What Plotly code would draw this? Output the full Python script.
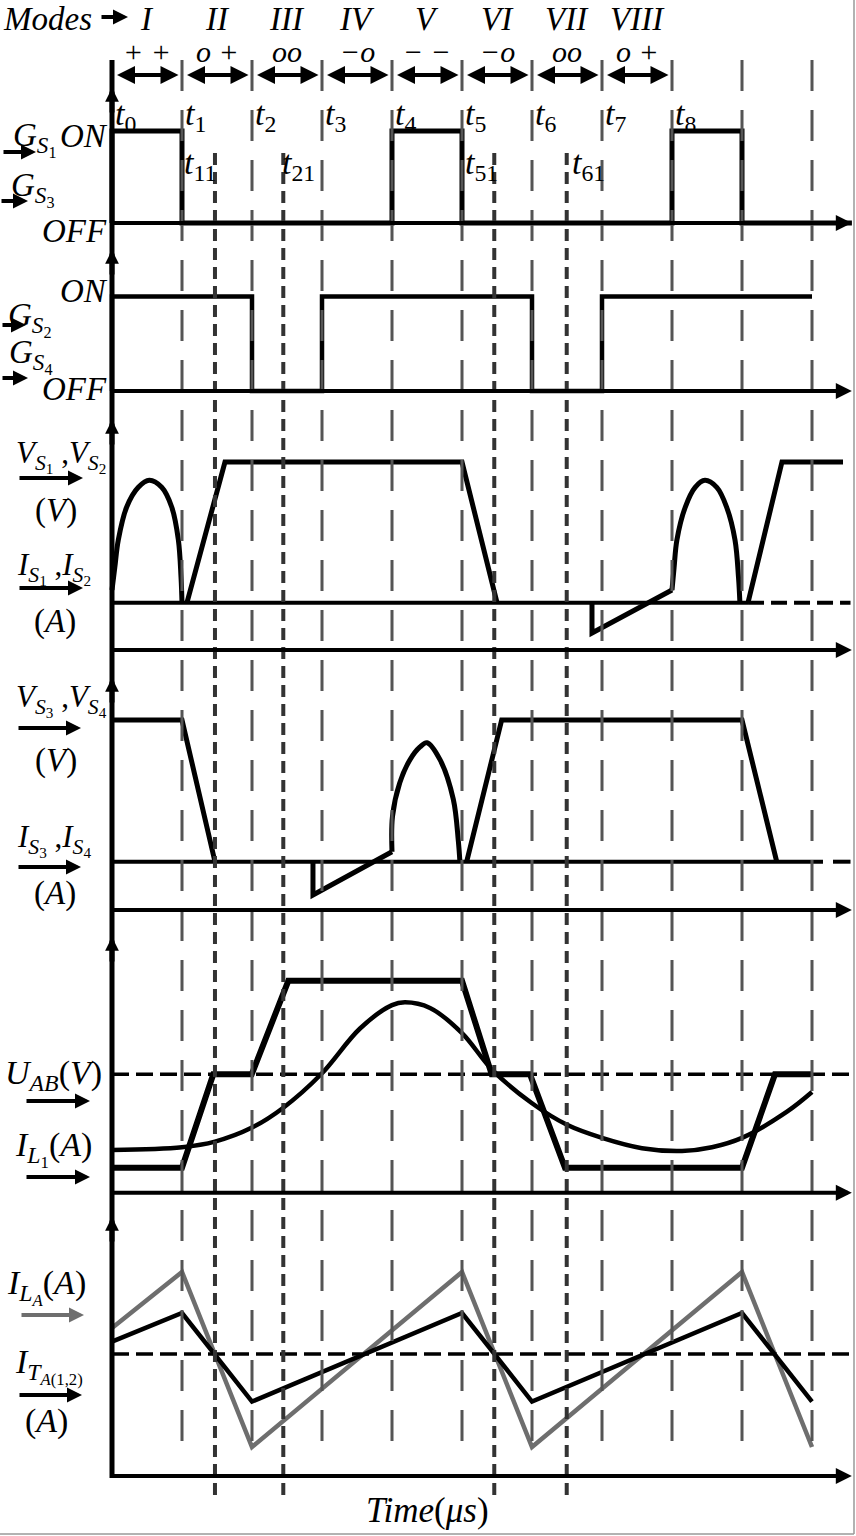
import plotly.graph_objects as go

W, H = 856, 1536

# ------------------------------------------------------------------ data
instants = list(range(1, 11))                    # t1 ... t10 guide lines
sub_instants = [1.471, 2.447, 5.461, 6.496]      # t11, t21, t51, t61
sub_names = ["11", "21", "51", "61"]
t_names = ["0", "1", "2", "3", "4", "5", "6", "7", "8"]
mode_names = ["I", "II", "III", "IV", "V", "VI", "VII", "VIII"]
mode_signs = ["+ +", "o +", "oo", "−o", "− −", "−o", "oo", "o +"]

# gate S1 / S3 (ON = 1, OFF = 0)
gs13_t = [0, 0, 1, 4, 5, 8, 9, 10.57]
gs13_v = [0, 1, 0, 1, 0, 1, 0, 0]
# gate S2 / S4
gs24_t = [0, 0, 2, 3, 6, 7, 10]
gs24_v = [0, 1, 0, 1, 0, 1, 1]

# V_S1,V_S2 / I_S1,I_S2
p3_arch1_t = [0.0, 0.04, 0.09, 0.21, 0.376, 0.533, 0.71, 0.853, 0.948, 0.986, 1.0]
p3_arch1_v = [0.09, 0.25, 0.446, 0.68, 0.82, 0.87, 0.82, 0.68, 0.446, 0.18, 0.0]
p3_arch2_t = [8.0, 8.03, 8.07, 8.19, 8.33, 8.47, 8.64, 8.78, 8.9, 8.95, 8.97]
p3_arch2_v = [0.09, 0.25, 0.446, 0.68, 0.82, 0.87, 0.82, 0.68, 0.446, 0.18, 0.0]
p3_lin_t = [1.071, 1.614, 5.0, 5.5, None, 6.857, 6.857, 8.0, None, 9.086, 9.571, 10.443]
p3_lin_v = [0, 1, 1, 0, None, 0, -0.215, 0.09, None, 0, 1, 1]
p3_base_t = [0, 9.086]
p3_dash_t = [9.086, 10.55]

# V_S3,V_S4 / I_S3,I_S4
p4_arch_t = [4.0, 4.007, 4.11, 4.257, 4.4, 4.5, 4.686, 4.876, 4.947, 4.97]
p4_arch_v = [0.07, 0.32, 0.555, 0.72, 0.81, 0.84, 0.72, 0.44, 0.15, 0.0]
p4_lin_t = [0, 1.0, 1.471, None, 2.871, 2.871, 4.0, None, 5.067, 5.567, 9.0, 9.496]
p4_lin_v = [1, 1, 0, None, 0, -0.235, 0.07, None, 0, 1, 1, 0]
p4_base_t = [0, 10.157]
p4_dash_t = [10.3, 10.55]

# U_AB and I_L1
uab_t = [0, 1, 1.447, 1.996, 2.519, 5.0, 5.424, 5.971, 6.471, 9.0, 9.471, 10.0]
uab_v = [-1, -1, 0, 0, 1, 1, 0, 0, -1, -1, 0, 0]
il1_t = [0, 1, 1.471, 2, 2.443, 2.986, 3.543, 4, 4.186, 4.543, 5, 5.429, 6, 6.5,
         7, 7.571, 8.143, 8.571, 9, 9.643, 10]
il1_v = [-0.81, -0.78, -0.72, -0.57, -0.36, 0.0, 0.49, 0.74, 0.77, 0.71, 0.44, 0.05,
         -0.31, -0.54, -0.68, -0.79, -0.82, -0.78, -0.68, -0.40, -0.19]
ref_t = [0, 10.57]

# I_LA (grey) and I_TA(1,2) (black)
ila_t = [0, 1, 2, 5, 6, 9, 10]
ila_v = [0.317, 1.0, -1.134, 1.0, -1.134, 1.0, -1.134]
ita_t = [0, 1, 2, 5, 6, 9, 10]
ita_v = [0.15, 0.5, -0.58, 0.5, -0.58, 0.5, -0.58]

# ------------------------------------------------------------------ layout geometry (pixels)
X0, XS = 112.0, 70.0          # pixel of t=0, pixels per interval
x_range = [-X0 / XS, (W - X0) / XS]

# zero pixel, pixels per unit, arrow-tip pixel, x-axis pixel
panels = [
    dict(zero=223.0, scale=92.0, tip=88, axis=223.0),
    dict(zero=391.0, scale=94.5, tip=250, axis=391.0),
    dict(zero=602.7, scale=140.7, tip=420, axis=650.0),
    dict(zero=861.7, scale=141.7, tip=678, axis=910.0),
    dict(zero=1074.3, scale=93.5, tip=937, axis=1192.7),
    dict(zero=1354.0, scale=82.0, tip=1217, axis=1476.0),
]

FONT = "Liberation Serif"
BLACK = "#000000"
GREY = "#6e6e6e"
GUIDE = "#555555"

def py(p):
    return 1 - p / H

def px(p):
    return p / W

fig = go.Figure()
layout_axes = {}
for i, p in enumerate(panels):
    top = p["tip"] - 6
    bot = p["axis"] + 8
    name = "yaxis" if i == 0 else f"yaxis{i+1}"
    layout_axes[name] = dict(
        domain=[py(bot), py(top)],
        range=[(p["zero"] - bot) / p["scale"], (p["zero"] - top) / p["scale"]],
        visible=False, anchor="x", fixedrange=True,
    )
    p["yref"] = "y" if i == 0 else f"y{i+1}"
    p["axis_val"] = (p["zero"] - p["axis"]) / p["scale"]

def add_line(t, v, k, color=BLACK, width=5, shape="linear", dash="solid"):
    fig.add_trace(go.Scatter(
        x=t, y=v, mode="lines", yaxis=panels[k]["yref"], xaxis="x",
        line=dict(color=color, width=width, shape=shape, dash=dash),
        connectgaps=False, hoverinfo="skip", showlegend=False,
    ))

# panel 1, 2: gates
add_line(gs13_t, gs13_v, 0, width=5, shape="hv")
add_line(gs24_t, gs24_v, 1, width=4.5, shape="hv")
# panel 3
add_line(p3_base_t, [0, 0], 2, width=4)
add_line(p3_dash_t, [0, 0], 2, width=4, dash="16px,7px")
add_line(p3_arch1_t, p3_arch1_v, 2, width=5, shape="spline")
add_line(p3_arch2_t, p3_arch2_v, 2, width=5, shape="spline")
add_line(p3_lin_t, p3_lin_v, 2, width=5)
# panel 4
add_line(p4_base_t, [0, 0], 3, width=4)
add_line(p4_dash_t, [0, 0], 3, width=4)
add_line(p4_arch_t, p4_arch_v, 3, width=5, shape="spline")
add_line(p4_lin_t, p4_lin_v, 3, width=5)
# panel 5
add_line(ref_t, [0, 0], 4, width=3.5, dash="17px,7px")
add_line(uab_t, uab_v, 4, width=6)
add_line(il1_t, il1_v, 4, width=4.5, shape="spline")
# panel 6
add_line(ref_t, [0, 0], 5, width=3.5, dash="17px,7px")
add_line(ila_t, ila_v, 5, color=GREY, width=4.5)
add_line(ita_t, ita_v, 5, color=BLACK, width=4.5)

shapes = []
# main vertical axis line
shapes.append(dict(type="line", xref="x", yref="paper", x0=0, x1=0,
                   y0=py(60), y1=py(1478), line=dict(color=BLACK, width=5)))
# dashed time guides
for k in instants:
    shapes.append(dict(type="line", xref="x", yref="paper", x0=k, x1=k,
                       y0=py(60), y1=py(1456),
                       line=dict(color=GUIDE, width=3, dash="31px,19px")))
# dotted sub-instant guides
for s in sub_instants:
    shapes.append(dict(type="line", xref="x", yref="paper", x0=s, x1=s,
                       y0=py(153), y1=py(1495),
                       line=dict(color="#333333", width=4, dash="12px,7px")))
# thin frame at right / bottom
shapes.append(dict(type="line", xref="paper", yref="paper", x0=px(854), x1=px(854),
                   y0=py(0), y1=py(1534), line=dict(color="#999999", width=1.5)))
shapes.append(dict(type="line", xref="paper", yref="paper", x0=0, x1=px(854),
                   y0=py(1534), y1=py(1534), line=dict(color="#999999", width=1.5)))

ann = []
# axis arrows
for p in panels:
    ann.append(dict(x=0, y=py(p["tip"]), xref="x", yref="paper", ax=0, ay=26,
                    text="", showarrow=True, arrowhead=2, arrowwidth=5,
                    arrowsize=0.55, arrowcolor=BLACK))
    ann.append(dict(x=x_range[1] - 0.06, y=p["axis_val"], xref="x", yref=p["yref"],
                    ax=0, ay=p["axis_val"], axref="x", ayref=p["yref"],
                    text="", showarrow=True, arrowhead=2, arrowwidth=4,
                    arrowsize=0.8, arrowcolor=BLACK))

# mode double arrows
for k in range(8):
    ann.append(dict(x=k + 1 - 0.05, y=py(75), xref="x", yref="paper",
                    ax=k + 0.05, ay=0, axref="x", ayref="pixel",
                    text="", showarrow=True, arrowhead=2, arrowside="end+start",
                    arrowwidth=4, arrowsize=0.9, arrowcolor=BLACK))

def text(s, x, y, size=30, xanchor="left", xref="paper", color=BLACK):
    ann.append(dict(text=s, x=(px(x) if xref == "paper" else x), y=py(y),
                    xref=xref, yref="paper", xanchor=xanchor, yanchor="middle",
                    showarrow=False, font=dict(family=FONT, size=size, color=color)))

def arrow(x0, x1, y, color=BLACK):
    ann.append(dict(x=px(x1), y=py(y), xref="paper", yref="paper",
                    ax=-(x1 - x0), ay=0, text="", showarrow=True, arrowhead=2,
                    arrowwidth=4, arrowsize=0.75, arrowcolor=color))

# header
text("<i>Modes</i>", 1, 19, size=33)
arrow(100, 128, 17)
for k, (m, s) in enumerate(zip(mode_names, mode_signs)):
    text(f"<i>{m}</i>", k + 0.5, 19, size=33, xanchor="center", xref="x")
    text(f"<i>{s}</i>", k + 0.5, 52, size=30, xanchor="center", xref="x")

# instant labels
for k, n in enumerate(t_names):
    text(f"<i>t</i><sub>{n}</sub>", X0 + XS * k + 1, 116, size=34)
for s, n, xp in zip(sub_instants, sub_names, [182, 280, 463, 570]):
    text(f"<i>t</i><sub>{n}</sub>", xp, 165, size=34)

# panel 1 labels
text("<i>G</i><sub><i>S</i><sub>1</sub></sub>", 11, 139, size=33)
text("<i>ON</i>", 58, 136, size=33)
arrow(2, 36, 152)
text("<i>G</i><sub><i>S</i><sub>3</sub></sub>", 9, 189, size=33)
arrow(0, 28, 201)
text("<i>OFF</i>", 40, 231, size=33)
# panel 2 labels
text("<i>ON</i>", 58, 291, size=33)
text("<i>G</i><sub><i>S</i><sub>2</sub></sub>", 6, 319, size=33)
arrow(1, 26, 325)
text("<i>G</i><sub><i>S</i><sub>4</sub></sub>", 7, 356, size=33)
arrow(1, 28, 378)
text("<i>OFF</i>", 40, 389, size=33)
# panel 3 labels
text("<i>V</i><sub><i>S</i><sub>1</sub></sub> ,<i>V</i><sub><i>S</i><sub>2</sub></sub>", 14, 456, size=31)
arrow(18, 83, 478)
text("(<i>V</i>)", 33, 510, size=33)
text("<i>I</i><sub><i>S</i><sub>1</sub></sub> ,<i>I</i><sub><i>S</i><sub>2</sub></sub>", 15, 568, size=31)
arrow(18, 83, 588)
text("(<i>A</i>)", 32, 621, size=33)
# panel 4 labels
text("<i>V</i><sub><i>S</i><sub>3</sub></sub> ,<i>V</i><sub><i>S</i><sub>4</sub></sub>", 14, 700, size=31)
arrow(17, 81, 728)
text("(<i>V</i>)", 33, 760, size=33)
text("<i>I</i><sub><i>S</i><sub>3</sub></sub> ,<i>I</i><sub><i>S</i><sub>4</sub></sub>", 15, 840, size=31)
arrow(17, 81, 867)
text("(<i>A</i>)", 32, 893, size=33)
# panel 5 labels
text("<i>U</i><sub><i>AB</i></sub>(<i>V</i>)", 3, 1075, size=34)
arrow(25, 90, 1101)
text("<i>I</i><sub><i>L</i><sub>1</sub></sub>(<i>A</i>)", 13, 1149, size=34)
arrow(25, 90, 1177)
# panel 6 labels
text("<i>I</i><sub><i>L</i><sub><i>A</i></sub></sub>(<i>A</i>)", 5, 1287, size=34)
arrow(20, 84, 1315, color=GREY)
text("<i>I</i><sub><i>T</i><sub><i>A</i>(1,2)</sub></sub>", 13, 1366, size=34)
arrow(18, 82, 1395)
text("(<i>A</i>)", 23, 1421, size=34)

text("<i>Time</i>(<i>μs</i>)", 427, 1510, size=35, xanchor="center")

fig.update_layout(
    width=W, height=H,
    margin=dict(l=0, r=0, t=0, b=0),
    paper_bgcolor="white", plot_bgcolor="rgba(0,0,0,0)",
    xaxis=dict(domain=[0, 1], range=x_range, visible=False, anchor="y", fixedrange=True),
    shapes=shapes, annotations=ann, showlegend=False,
    **layout_axes,
)

fig.write_html("out.html", config={"displayModeBar": False},
               post_script="document.body.style.margin='0px';document.body.style.padding='0px';")
